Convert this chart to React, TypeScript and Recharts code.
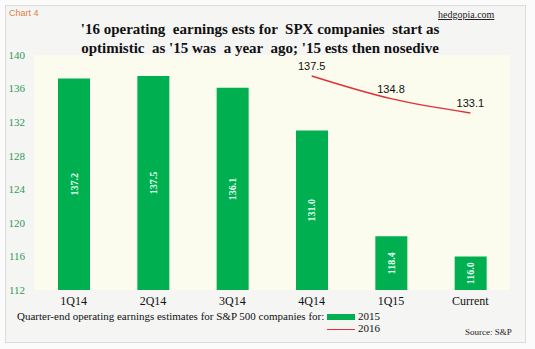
import React from "react";
import { ComposedChart, Bar, Line, XAxis, YAxis, CartesianGrid, LabelList } from "recharts";

const categories = ["1Q14", "2Q14", "3Q14", "4Q14", "1Q15", "Current"];
const est2015 = [137.2, 137.5, 136.1, 131.0, 118.4, 116.0];
const est2016: (number | null)[] = [null, null, null, 137.5, 134.8, 133.1];
const yTicks = [112, 116, 120, 124, 128, 132, 136, 140];

const data = categories.map((c, i) => ({ name: c, y2015: est2015[i], y2016: est2016[i] }));

const serif = "'Liberation Serif', 'Times New Roman', serif";
const sans = "'Liberation Sans', Arial, sans-serif";

const BarLabel = (props: any) => {
  const { x, y, width, height, value } = props;
  const cx = Number(x) + Number(width) / 2;
  const cy = Number(y) + Number(height) / 2;
  return (
    <text
      x={cx}
      y={cy}
      transform={`rotate(-90, ${cx}, ${cy})`}
      textAnchor="middle"
      dominantBaseline="central"
      fill="#e6fff2"
      fontSize={10}
      fontWeight="bold"
      fontFamily={serif}
    >
      {Number(value).toFixed(1)}
    </text>
  );
};

export default function App() {
  return (
    <div style={{ position: "absolute", left: 0, top: 0, width: 535, height: 349, background: "#fbfbfb" }}>
      <div
        style={{
          position: "absolute",
          left: 5,
          top: 5,
          width: 519,
          height: 336,
          background: "#f5f5f4",
          border: "1px solid #dcdcdc",
        }}
      />
      <div style={{ position: "absolute", left: 0, top: 0 }}>
        <ComposedChart
          width={535}
          height={349}
          data={data}
          margin={{ top: 55, right: 25, bottom: 29, left: 0 }}
          barCategoryGap={0}
        >
          <CartesianGrid horizontal={false} vertical={false} fill="#fbfbee" stroke="none" />
          <XAxis
            dataKey="name"
            axisLine={false}
            tickLine={false}
            height={30}
            tickSize={0}
            tickMargin={6}
            tick={{ fill: "#111", fontSize: 12, fontFamily: serif }}
            interval={0}
          />
          <YAxis
            width={34}
            domain={[112, 140]}
            ticks={yTicks}
            axisLine={false}
            tickLine={false}
            tickSize={0}
            tickMargin={9}
            tick={{ fill: "#2e9a57", fontSize: 11, fontFamily: serif }}
            allowDataOverflow
          />
          <Bar dataKey="y2015" fill="#00b050" barSize={32} isAnimationActive={false}>
            <LabelList dataKey="y2015" content={BarLabel} />
          </Bar>
          <Line
            dataKey="y2016"
            type="monotone"
            stroke="#e0303a"
            strokeWidth={1.5}
            dot={false}
            activeDot={false}
            connectNulls={false}
            isAnimationActive={false}
          >
            <LabelList
              dataKey="y2016"
              position="top"
              offset={6}
              fill="#111"
              fontSize={11}
              fontFamily={sans}
              formatter={(v: any) => (v == null ? "" : Number(v).toFixed(1))}
            />
          </Line>
        </ComposedChart>
      </div>
      <div style={{ position: "absolute", left: 9, top: 8, fontSize: 9, color: "#e08040", fontFamily: sans }}>Chart 4</div>
      <div
        style={{
          position: "absolute",
          left: 438,
          top: 9,
          fontSize: 10,
          color: "#222",
          fontFamily: serif,
          textDecoration: "underline",
        }}
      >
        hedgopia.com
      </div>
      <div
        style={{
          position: "absolute",
          left: 60,
          top: 20,
          width: 400,
          textAlign: "center",
          fontSize: 15,
          lineHeight: "19px",
          fontWeight: "bold",
          fontFamily: serif,
          color: "#111",
          whiteSpace: "pre",
        }}
      >
        {"'16 operating  earnings ests for  SPX companies  start as\noptimistic  as '15 was  a year  ago; '15 ests then nosedive"}
      </div>
      <div style={{ position: "absolute", left: 17, top: 310, fontSize: 11, fontFamily: serif, color: "#111" }}>
        Quarter-end operating earnings estimates for S&amp;P 500 companies for:
      </div>
      <div style={{ position: "absolute", left: 327, top: 314, width: 28, height: 6, background: "#00b050" }} />
      <div style={{ position: "absolute", left: 358, top: 310, fontSize: 11, fontFamily: serif, color: "#111" }}>2015</div>
      <div style={{ position: "absolute", left: 327, top: 329, width: 28, height: 1, background: "#e0303a" }} />
      <div style={{ position: "absolute", left: 358, top: 322, fontSize: 11, fontFamily: serif, color: "#111" }}>2016</div>
      <div style={{ position: "absolute", left: 465, top: 327, fontSize: 9, fontFamily: serif, color: "#222" }}>
        Source: S&amp;P
      </div>
    </div>
  );
}
